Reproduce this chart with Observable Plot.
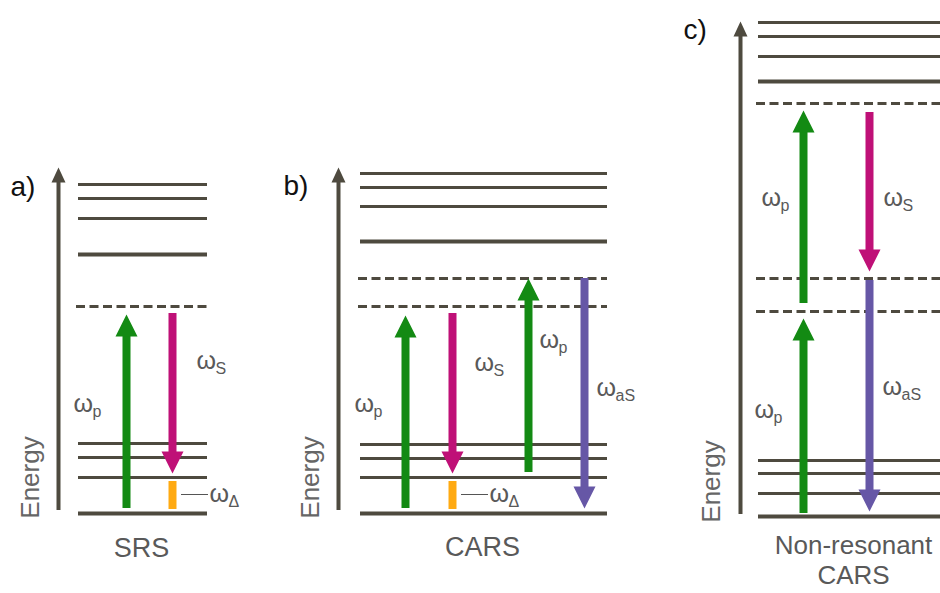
<!DOCTYPE html>
<html><head><meta charset="utf-8">
<script src="https://cdn.jsdelivr.net/npm/d3@7"></script>
<script src="https://cdn.jsdelivr.net/npm/@observablehq/plot@0.6"></script>
<style>html,body{margin:0;padding:0;background:#fff}svg{display:block}</style>
</head><body><div id="chart"></div>
<script>
// ---- data (energy positions in drawing units, top = high energy) ----
const panelNames = ["a", "b", "c"];
const panelTags = ["a)", "b)", "c)"];
const processNames = ["SRS", "CARS", "Non-resonant\nCARS"];
const spanA = [78, 207], spanB = [360, 607], spanC = [758, 940];

// real (solid) energy levels; last value is the ground state
const levelsA = [184, 198, 218, 254, 443, 457, 477, 513];
const levelsB = [173, 187, 206, 241, 444, 458, 477, 513];
const levelsC = [22, 36, 56, 81, 460, 473, 493, 516];
// virtual (dashed) levels
const virtualA = [306];
const virtualB = [278, 306];
const virtualC = [103, 278, 311];

// transitions: beam, slot x, start energy, end energy
const beamsA = [["p", 126, 508, 314], ["S", 172, 313, 473]];
const beamsB = [["p", 405, 508, 315], ["S", 452, 313, 473], ["p", 528, 472, 278], ["aS", 584, 278, 508]];
const beamsC = [["p", 803, 513, 318], ["p", 803, 303, 110], ["S", 869, 112, 271], ["aS", 869, 280, 511]];
const deltaA = [172, 481, 509];
const deltaB = [452, 481, 509];

// energy axes: x, bottom, top
const axisA = [58, 510, 167], axisB = [338, 510, 167], axisC = [740, 514, 21];

// omega labels: x, y, subscript
const omegaA = [[73, 403, "p"], [196, 360, "S"], [209, 493, "Δ"]];
const omegaB = [[354, 403, "p"], [474, 362, "S"], [539, 339, "p"], [596, 387, "aS"], [489, 493, "Δ"]];
const omegaC = [[761, 197, "p"], [883, 197, "S"], [882, 386, "aS"], [754, 409, "p"]];

const beamNames = ["p", "S", "aS", "Δ"];
const beamColors = ["#138a13", "#bf1077", "#6657a6", "#ffaa12"];
const INK = "#4e4a3f";
const TEXT = "#595959";

// ---- build tables ----
const spans = {a: spanA, b: spanB, c: spanC};
const levels = [];
[[levelsA, "a"], [levelsB, "b"], [levelsC, "c"]].forEach(([arr, p]) =>
  arr.forEach((e, i) => levels.push({panel: p, e, x1: spans[p][0], x2: spans[p][1], thick: i === 3 || i === arr.length - 1})));
const virtuals = [];
[[virtualA, "a"], [virtualB, "b"], [virtualC, "c"]].forEach(([arr, p]) =>
  arr.forEach(e => virtuals.push({panel: p, e, x1: spans[p][0] - 2, x2: spans[p][1]})));

const HEAD_W = 22, HEAD_L = 22;
const beams = [...beamsA, ...beamsB, ...beamsC].map(([beam, x, from, to], id) => {
  const dir = to < from ? -1 : 1;
  return {id, beam, x, from, to, base: to - dir * HEAD_L, shaftEnd: to - dir * (HEAD_L - 1)};
});
const heads = beams.flatMap(d => [
  {id: d.id, beam: d.beam, x: d.x - HEAD_W / 2, y: d.base},
  {id: d.id, beam: d.beam, x: d.x, y: d.to},
  {id: d.id, beam: d.beam, x: d.x + HEAD_W / 2, y: d.base}
]);
const deltas = [deltaA, deltaB].map(([x, y1, y2]) => ({beam: "Δ", x, y1, y2}));

const axes = [axisA, axisB, axisC].map(([x, y1, y2], id) => ({id, x, y1, y2, base: y2 + 15}));
const axisHeads = axes.flatMap(d => [
  {id: d.id, x: d.x - 7, y: d.base}, {id: d.id, x: d.x, y: d.y2}, {id: d.id, x: d.x + 7, y: d.base}
]);

const omegas = [...omegaA, ...omegaB, ...omegaC].map(([x, y, sub]) => ({x, y, sub}));
const deltaLeaders = omegas.filter(d => d.sub === "Δ").map(d => ({y: d.y + 1, x1: d.x - 28, x2: d.x - 1}));

const tagPos = [[10, 187], [283, 186], [683, 30]];
const tags = panelTags.map((t, i) => ({text: t, x: tagPos[i][0], y: tagPos[i][1]}));
const energyPos = [[30, 477], [310, 477], [711, 481]];
const energyTitles = energyPos.map(([x, y]) => ({x, y}));
const namePos = [[141, 548], [482, 547], [853, 559]];
const names = processNames.map((t, i) => ({text: t, x: namePos[i][0], y: namePos[i][1]}));

const W = 940, H = 593;
const chart = Plot.plot({
  width: W, height: H, margin: 0,
  x: {domain: [0, W], range: [0, W], axis: null},
  y: {domain: [0, H], range: [0, H], axis: null},
  color: {domain: beamNames, range: beamColors},
  style: {fontFamily: "'Liberation Sans', Arial, sans-serif", background: "#fff", overflow: "hidden"},
  marks: [
    // energy axes
    Plot.ruleX(axes, {x: "x", y1: "y1", y2: "base", stroke: INK, strokeWidth: 4}),
    Plot.line(axisHeads, {x: "x", y: "y", z: "id", fill: INK, stroke: "none"}),
    // levels
    Plot.ruleY(levels, {y: "e", x1: "x1", x2: "x2", stroke: INK, strokeWidth: d => d.thick ? 4 : 3}),
    Plot.ruleY(virtuals, {y: "e", x1: "x1", x2: "x2", stroke: INK, strokeWidth: 3, strokeDasharray: "9,4.5"}),
    // transitions
    Plot.ruleX(beams, {x: "x", y1: "from", y2: "shaftEnd", stroke: "beam", strokeWidth: 8}),
    Plot.line(heads, {x: "x", y: "y", z: "id", fill: "beam", stroke: "none"}),
    Plot.ruleX(deltas, {x: "x", y1: "y1", y2: "y2", stroke: "beam", strokeWidth: 8}),
    Plot.ruleY(deltaLeaders, {y: "y", x1: "x1", x2: "x2", stroke: "#555", strokeWidth: 1}),
    // labels
    Plot.text(omegas, {x: "x", y: "y", text: () => "ω", textAnchor: "start", fontSize: 25, fill: TEXT}),
    Plot.text(omegas, {x: "x", y: "y", dx: 19, dy: 8, text: "sub", textAnchor: "start", fontSize: 16, fill: TEXT}),
    Plot.text(tags, {x: "x", y: "y", text: "text", textAnchor: "start", fontSize: 28, fill: "#111"}),
    Plot.text(energyTitles, {x: "x", y: "y", text: () => "Energy", rotate: -90, fontSize: 26, fill: "#666"}),
    Plot.text(names.slice(0, 2), {x: "x", y: "y", text: "text", fontSize: 27, fill: TEXT}),
    Plot.text(names.slice(2), {x: "x", y: "y", text: "text", fontSize: 26, lineHeight: 1.15, fill: TEXT})
  ]
});
document.getElementById("chart").appendChild(chart);
</script>
</body></html>
